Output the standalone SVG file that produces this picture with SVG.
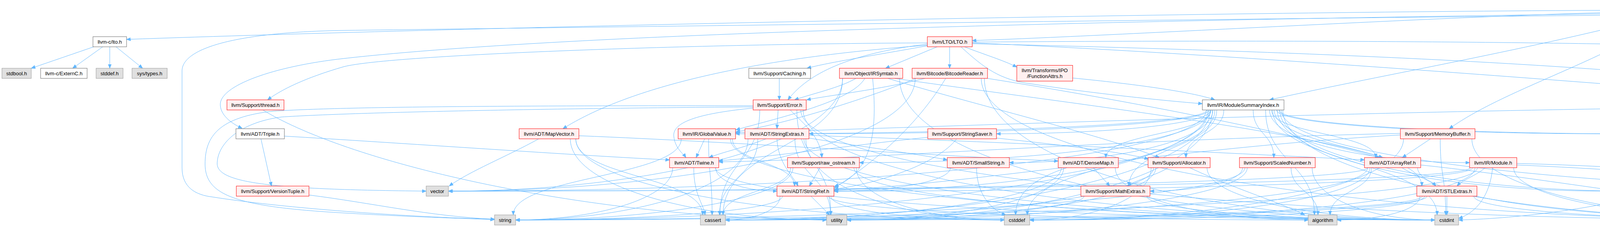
<svg xmlns="http://www.w3.org/2000/svg" width="5255" height="582" viewBox="0 0 5255 582">
<style>
.node rect{stroke-width:1}
.t{fill:#999999;stroke:#666666}
.w{fill:#ffffff;stroke:#666666}
.g{fill:#e0e0e0;stroke:#999999}
.r{fill:#fff0f0;stroke:#ff0000}
text{font-family:"Liberation Sans",Arial,sans-serif;font-size:13px;fill:#000000;text-anchor:middle}
text.l{text-anchor:start}
#edges path{fill:none;stroke:#63b8ff;stroke-width:1;marker-end:url(#arr)}
</style>
<defs>
<marker id="arr" markerUnits="userSpaceOnUse" markerWidth="12" markerHeight="10" refX="10.5" refY="4.5" orient="auto">
<path d="M0.5,0.5 L10.5,4.5 L0.5,8.5 z" fill="#63b8ff" stroke="#63b8ff" stroke-width="1"/>
</marker>
</defs>
<rect x="0" y="0" width="5255" height="582" fill="#ffffff"/>
<g id="edges">
<path d="M4217,26 C3000,30 1200,70 324,101"/>
<path d="M4217,30 C3800,36 2900,90 2489,104"/>
<path d="M4217,34 C3000,50 1500,80 880,150 C700,170 560,220 564,270 C566,300 600,320 620,329"/>
<path d="M4217,38 C3000,50 1500,70 880,78 C620,82 466,120 466,182 L466,430 C466,480 500,500 544,505 C700,530 1000,555 1266,562"/>
<path d="M4225,46 C3900,130 3500,200 3250,256"/>
<path d="M4265,46 C4100,160 3850,230 3710,330"/>
<path d="M4391,33 C4600,50 4850,80 4978,100"/>
<path d="M4391,36 C4700,60 4865,120 4865,200 L4865,477"/>
<path d="M4391,30 C4750,40 4920,110 5017,256"/>
<path d="M4391,27 C4800,30 5150,60 5200,130 C5240,200 5200,270 5170,330"/>
<path d="M240,120 L80,175"/>
<path d="M263,120 L186,175"/>
<path d="M281,120 L281,175"/>
<path d="M297,120 L365,175"/>
<path d="M5029,282 L5046,477"/>
<path d="M728,349 C1000,365 1500,400 1714,410"/>
<path d="M668,356 L695,477"/>
<path d="M791,500 C950,520 1100,555 1266,562"/>
<path d="M673,282 C900,420 1500,560 2116,564"/>
<path d="M3255,282 C3255,343 3522,343 3522,404"/>
<path d="M3100,282 C3100,343 2831,343 2831,404"/>
<path d="M3262,282 C3262,379 3640,379 3640,477"/>
<path d="M3105,282 C3105,363 2845,417 2584,417"/>
<path d="M3095,282 C3095,319 2583,343 2071,343"/>
<path d="M3280,282 C3280,407 4125,490 4971,490"/>
<path d="M3095,282 C3095,407 2615,490 2135,490"/>
<path d="M3276,282 C3276,407 3730,490 4183,490"/>
<path d="M3090,282 C3090,319 2486,343 1883,343"/>
<path d="M3250,282 C3250,363 3506,417 3762,417"/>
<path d="M3133,282 C3133,343 3036,343 3036,404"/>
<path d="M3115,282 C3115,379 2890,379 2890,477"/>
<path d="M3208,282 C3208,343 3261,343 3261,404"/>
<path d="M3100,282 C3100,319 2825,343 2551,343"/>
<path d="M3100,282 C3100,363 2650,417 2200,417"/>
<path d="M3240,282 C3240,416 3365,416 3365,551"/>
<path d="M3270,282 C3270,407 3690,490 4109,490"/>
<path d="M3098,282 C3098,451 2477,564 1857,564"/>
<path d="M3110,282 C3110,416 2630,416 2630,551"/>
<path d="M3258,282 C3258,416 3679,416 3679,551"/>
<path d="M3268,282 C3268,319 3688,343 4108,343"/>
<path d="M3284,282 C3284,451 3921,564 4559,564"/>
<path d="M3274,282 C3274,319 3726,343 4178,343"/>
<path d="M3092,282 C3092,451 2206,564 1320,564"/>
<path d="M3104,282 C3104,451 2636,564 2168,564"/>
<path d="M3088,282 C3088,407 2118,490 1148,490"/>
<path d="M2376,117 C2250,140 2120,160 2066,175"/>
<path d="M2399,120 L2267,175"/>
<path d="M2431,120 L2431,175"/>
<path d="M2469,120 C2520,140 2570,155 2603,172"/>
<path d="M2374,113 C2150,140 2060,200 2017,256"/>
<path d="M2374,110 C1800,112 1000,140 880,171 C780,200 720,230 685,256"/>
<path d="M2374,116 C1900,150 1600,230 1441,330"/>
<path d="M2489,112 C3700,140 4916,200 4916,330 C4916,420 4980,460 5005,477"/>
<path d="M2489,108 C3500,100 4700,110 4900,150 C4980,180 5010,220 5017,256"/>
<path d="M2460,120 C2520,175 2560,205 2640,215 C2800,240 2980,258 3078,266"/>
<path d="M2489,110 C3200,140 4300,230 4700,262"/>
<path d="M2746,200 C2900,215 3050,235 3110,256"/>
<path d="M3662,356 L3590,404"/>
<path d="M3585,346 C3000,380 2500,470 2135,488"/>
<path d="M3585,342 C2800,360 2200,410 1840,415"/>
<path d="M3593,356 C3593,481 3114,564 2636,564"/>
<path d="M3687,356 C3687,453 3701,453 3701,551"/>
<path d="M3768,356 C3768,481 4163,564 4559,564"/>
<path d="M5161,356 C5165,440 5160,490 5100,515 C4950,545 4750,558 4627,562"/>
<path d="M1379,356 C1300,400 1200,440 1150,477"/>
<path d="M1482,348 C1900,365 2400,400 2709,413"/>
<path d="M1474,356 C1474,453 1799,453 1799,551"/>
<path d="M1474,356 C1474,481 2022,564 2571,564"/>
<path d="M1460,356 C1460,481 1795,564 2116,564"/>
<path d="M1995,201 L1995,256"/>
<path d="M2191,201 C2150,225 2080,240 2034,256"/>
<path d="M2214,201 C2180,260 2000,300 1884,333"/>
<path d="M2234,201 C2245,320 2240,440 2136,478"/>
<path d="M2273,201 C2500,270 2800,340 2968,404"/>
<path d="M2290,201 C2700,260 3300,330 3540,404"/>
<path d="M2157,201 C2157,376 1851,376 1851,551"/>
<path d="M2303,201 C2303,419 2988,564 3673,564"/>
<path d="M2157,201 C2157,374 1652,490 1148,490"/>
<path d="M2368,201 C2250,230 2120,245 2065,256"/>
<path d="M2345,201 C2200,260 2000,320 1884,338"/>
<path d="M2421,201 C2330,350 2200,440 2136,482"/>
<path d="M2528,201 C2900,260 3300,340 3530,404"/>
<path d="M2520,201 C2520,419 3096,564 3673,564"/>
<path d="M2512,201 C2512,419 3539,564 4559,564"/>
<path d="M2343,201 C2343,374 1745,490 1148,490"/>
<path d="M1992,282 L1989,330"/>
<path d="M2023,282 C2060,320 2100,350 2104,404"/>
<path d="M1928,277 C1800,290 1720,310 1725,350 C1728,380 1750,395 1756,404"/>
<path d="M1945,282 C1945,416 1843,416 1843,551"/>
<path d="M2056,282 C2056,451 2864,564 3673,564"/>
<path d="M2050,282 C2050,451 3307,564 4559,564"/>
<path d="M1928,271 C1400,271 900,272 700,285 C560,300 525,350 525,420 C525,500 600,530 880,546 C1050,556 1180,560 1266,563"/>
<path d="M2040,282 C2040,416 2127,416 2127,551"/>
<path d="M1928,274 C1400,278 900,288 720,300 C610,315 556,370 556,420 C557,470 700,486 1091,490"/>
<path d="M1804,356 L1782,404"/>
<path d="M1875,356 C1875,416 2034,416 2034,477"/>
<path d="M1814,356 C1814,453 1823,453 1823,551"/>
<path d="M1870,356 C1870,481 2774,564 3673,564"/>
<path d="M1744,356 C1744,453 1314,453 1314,551"/>
<path d="M1961,356 C1900,380 1850,390 1815,404"/>
<path d="M1989,356 C1992,420 2030,450 2043,477"/>
<path d="M2071,354 C2200,375 2350,395 2425,410"/>
<path d="M2071,347 C2600,365 3200,395 3493,410"/>
<path d="M1940,356 C1940,453 1842,453 1842,551"/>
<path d="M2063,356 C2063,481 2317,564 2571,564"/>
<path d="M2058,356 C2058,481 2868,564 3673,564"/>
<path d="M1915,356 C1915,481 1617,564 1320,564"/>
<path d="M2035,356 C2035,453 2126,453 2126,551"/>
<path d="M2449,356 C2400,420 2250,470 2136,485"/>
<path d="M2375,352 C2200,370 1950,405 1840,412"/>
<path d="M2551,354 C2700,370 2880,390 2940,408"/>
<path d="M1832,430 C1832,466 1910,490 1989,490"/>
<path d="M1776,430 C1776,500 1800,520 1805,551"/>
<path d="M1832,430 C1832,510 2752,564 3673,564"/>
<path d="M1722,430 C1722,510 1521,564 1320,564"/>
<path d="M2099,430 L2072,477"/>
<path d="M2024,430 C2024,490 1851,490 1851,551"/>
<path d="M2192,430 C2192,510 2381,564 2571,564"/>
<path d="M2186,430 C2186,510 2932,564 3673,564"/>
<path d="M2030,430 C2030,510 1672,564 1320,564"/>
<path d="M2433,430 C2433,466 2284,490 2135,490"/>
<path d="M2500,430 C2500,500 2540,540 2575,551"/>
<path d="M2076,503 L2124,551"/>
<path d="M1997,503 C1997,540 1927,564 1857,564"/>
<path d="M2003,503 C2003,540 1658,564 1320,564"/>
<path d="M2127,503 C2127,540 2349,564 2571,564"/>
<path d="M2121,503 C2121,540 2738,564 3349,564"/>
<path d="M2799,430 L2841,477"/>
<path d="M2731,430 C2640,460 2600,500 2600,551"/>
<path d="M2855,430 C2855,510 3102,564 3349,564"/>
<path d="M2717,430 C2717,510 2287,564 1857,564"/>
<path d="M2723,430 C2723,510 2442,564 2168,564"/>
<path d="M2990,430 C2960,450 2910,460 2886,477"/>
<path d="M3046,430 C3150,480 3280,520 3340,551"/>
<path d="M2947,430 C2947,510 2791,564 2636,564"/>
<path d="M2953,430 C2953,510 2402,564 1857,564"/>
<path d="M3090,430 C3090,510 3381,564 3673,564"/>
<path d="M2959,430 C2959,510 2557,564 2168,564"/>
<path d="M3181,430 C3181,466 3062,490 2944,490"/>
<path d="M3305,430 C3305,490 3374,490 3374,551"/>
<path d="M3359,430 C3359,510 3516,564 3673,564"/>
<path d="M3187,430 C3187,510 2250,564 1320,564"/>
<path d="M3193,430 C3193,510 2674,564 2168,564"/>
<path d="M2775,503 C2775,540 2316,564 1857,564"/>
<path d="M2936,503 C2936,540 3304,564 3673,564"/>
<path d="M3589,430 C3620,450 3660,460 3676,477"/>
<path d="M3511,430 C3511,490 3405,490 3405,551"/>
<path d="M3637,423 C3800,440 4000,470 4109,485"/>
<path d="M3501,430 C3501,510 2679,564 1857,564"/>
<path d="M3507,430 C3507,510 3068,564 2636,564"/>
<path d="M3629,430 C3629,510 4094,564 4559,564"/>
<path d="M3501,430 C3501,466 2324,490 1148,490"/>
<path d="M3802,430 C3780,450 3745,460 3730,477"/>
<path d="M3821,430 C3815,500 3780,545 3734,560"/>
<path d="M3883,419 C4300,430 4700,470 4971,485"/>
<path d="M3883,423 C4300,440 4600,480 4782,488"/>
<path d="M3875,430 C3875,510 4217,564 4559,564"/>
<path d="M3770,430 C3770,466 2952,490 2135,490"/>
<path d="M3776,430 C3776,510 3203,564 2636,564"/>
<path d="M3782,430 C3782,510 2545,564 1320,564"/>
<path d="M3764,430 C3764,466 2459,490 1148,490"/>
<path d="M3704,503 L3704,551"/>
<path d="M3635,503 C3635,540 3529,564 3423,564"/>
<path d="M3641,503 C3641,540 2746,564 1857,564"/>
<path d="M3647,503 C3647,540 3135,564 2636,564"/>
<path d="M3773,503 C3773,540 4166,564 4559,564"/>
<path d="M3653,503 C3653,540 2901,564 2168,564"/>
<path d="M4190,503 C4100,530 3900,560 3734,564"/>
<path d="M4700,272 C3500,280 2300,330 1883,340"/>
<path d="M4771,282 C4800,380 4840,440 4855,477"/>
<path d="M4827,282 C4950,300 5050,320 5090,330"/>
</g>
<g id="n0" class="node"><rect class="t" x="4217" y="5" width="174" height="41"/><text class="l" x="4227" y="22.5">include/llvm/LTO/legacy</text><text class="l" x="4227" y="37.5">/ThinLTOCodeGenerator.h</text></g>
<g id="n1" class="node"><rect class="w" x="238" y="94" width="86" height="26"/><text x="281" y="111.5">llvm-c/lto.h</text></g>
<g id="n2" class="node"><rect class="g" x="5" y="175" width="75" height="26"/><text x="42.5" y="192.5">stdbool.h</text></g>
<g id="n3" class="node"><rect class="w" x="104" y="175" width="119" height="26"/><text x="163.5" y="192.5">llvm-c/ExternC.h</text></g>
<g id="n4" class="node"><rect class="g" x="246" y="175" width="69" height="26"/><text x="280.5" y="192.5">stddef.h</text></g>
<g id="n5" class="node"><rect class="g" x="338" y="175" width="90" height="26"/><text x="383" y="192.5">sys/types.h</text></g>
<g id="n6" class="node"><rect class="w" x="4955" y="256" width="146" height="26"/><text x="5028" y="273.5">llvm/ADT/StringSet.h</text></g>
<g id="n7" class="node"><rect class="r" x="4971" y="477" width="151" height="26"/><text x="5046.5" y="494.5">llvm/ADT/StringMap.h</text></g>
<g id="n8" class="node"><rect class="w" x="604" y="330" width="124" height="26"/><text x="666" y="347.5">llvm/ADT/Triple.h</text></g>
<g id="n9" class="node"><rect class="r" x="605" y="477" width="186" height="26"/><text x="698" y="494.5">llvm/Support/VersionTuple.h</text></g>
<g id="n10" class="node"><rect class="w" x="3078" y="256" width="209" height="26"/><text x="3182.5" y="273.5">llvm/IR/ModuleSummaryIndex.h</text></g>
<g id="n11" class="node"><rect class="r" x="2374" y="94" width="115" height="26"/><text x="2431.5" y="111.5">llvm/LTO/LTO.h</text></g>
<g id="n12" class="node"><rect class="r" x="4978" y="94" width="192" height="26"/><text x="5074" y="111.5">llvm/Support/CachePruning.h</text></g>
<g id="n13" class="node"><rect class="w" x="4782" y="477" width="165" height="26"/><text x="4864.5" y="494.5">llvm/Support/CodeGen.h</text></g>
<g id="n14" class="node"><rect class="r" x="3585" y="330" width="191" height="26"/><text x="3680.5" y="347.5">llvm/Support/MemoryBuffer.h</text></g>
<g id="n15" class="node"><rect class="r" x="5067" y="330" width="182" height="26"/><text x="5158" y="347.5">llvm/Target/TargetOptions.h</text></g>
<g id="n16" class="node"><rect class="g" x="1266" y="551" width="54" height="26"/><text x="1293" y="568.5">string</text></g>
<g id="n17" class="node"><rect class="r" x="581" y="256" width="146" height="26"/><text x="654" y="273.5">llvm/Support/thread.h</text></g>
<g id="n18" class="node"><rect class="r" x="1329" y="330" width="153" height="26"/><text x="1405.5" y="347.5">llvm/ADT/MapVector.h</text></g>
<g id="n19" class="node"><rect class="g" x="1091" y="477" width="57" height="26"/><text x="1119.5" y="494.5">vector</text></g>
<g id="n20" class="node"><rect class="w" x="1917" y="175" width="158" height="26"/><text x="1996" y="192.5">llvm/Support/Caching.h</text></g>
<g id="n21" class="node"><rect class="r" x="2149" y="175" width="162" height="26"/><text x="2230" y="192.5">llvm/Object/IRSymtab.h</text></g>
<g id="n22" class="node"><rect class="r" x="2335" y="175" width="193" height="26"/><text x="2431.5" y="192.5">llvm/Bitcode/BitcodeReader.h</text></g>
<g id="n23" class="node"><rect class="r" x="2603" y="167.5" width="143" height="40.5"/><text x="2674.5" y="184.5">llvm/Transforms/IPO</text><text x="2674.5" y="199.5">/FunctionAttrs.h</text></g>
<g id="n24" class="node"><rect class="r" x="1928" y="256" width="136" height="26"/><text x="1996" y="273.5">llvm/Support/Error.h</text></g>
<g id="n25" class="node"><rect class="r" x="1736" y="330" width="147" height="26"/><text x="1809.5" y="347.5">llvm/IR/GlobalValue.h</text></g>
<g id="n26" class="node"><rect class="r" x="1907" y="330" width="164" height="26"/><text x="1989" y="347.5">llvm/ADT/StringExtras.h</text></g>
<g id="n27" class="node"><rect class="r" x="2375" y="330" width="176" height="26"/><text x="2463" y="347.5">llvm/Support/StringSaver.h</text></g>
<g id="n28" class="node"><rect class="r" x="1714" y="404" width="126" height="26"/><text x="1777" y="421.5">llvm/ADT/Twine.h</text></g>
<g id="n29" class="node"><rect class="r" x="2016" y="404" width="184" height="26"/><text x="2108" y="421.5">llvm/Support/raw_ostream.h</text></g>
<g id="n30" class="node"><rect class="r" x="2425" y="404" width="159" height="26"/><text x="2504.5" y="421.5">llvm/ADT/SmallString.h</text></g>
<g id="n31" class="node"><rect class="r" x="1989" y="477" width="146" height="26"/><text x="2062" y="494.5">llvm/ADT/StringRef.h</text></g>
<g id="n32" class="node"><rect class="g" x="1793" y="551" width="64" height="26"/><text x="1825" y="568.5">cassert</text></g>
<g id="n33" class="node"><rect class="g" x="2116" y="551" width="52" height="26"/><text x="2142" y="568.5">utility</text></g>
<g id="n34" class="node"><rect class="g" x="2571" y="551" width="65" height="26"/><text x="2603.5" y="568.5">cstddef</text></g>
<g id="n35" class="node"><rect class="r" x="2709" y="404" width="154" height="26"/><text x="2786" y="421.5">llvm/ADT/DenseMap.h</text></g>
<g id="n36" class="node"><rect class="r" x="2939" y="404" width="159" height="26"/><text x="3018.5" y="421.5">llvm/Support/Allocator.h</text></g>
<g id="n37" class="node"><rect class="r" x="3173" y="404" width="194" height="26"/><text x="3270" y="421.5">llvm/Support/ScaledNumber.h</text></g>
<g id="n38" class="node"><rect class="r" x="2767" y="477" width="177" height="26"/><text x="2855.5" y="494.5">llvm/Support/MathExtras.h</text></g>
<g id="n39" class="node"><rect class="g" x="3349" y="551" width="74" height="26"/><text x="3386" y="568.5">algorithm</text></g>
<g id="n40" class="node"><rect class="r" x="3493" y="404" width="144" height="26"/><text x="3565" y="421.5">llvm/ADT/ArrayRef.h</text></g>
<g id="n41" class="node"><rect class="r" x="3762" y="404" width="121" height="26"/><text x="3822.5" y="421.5">llvm/IR/Module.h</text></g>
<g id="n42" class="node"><rect class="r" x="3627" y="477" width="154" height="26"/><text x="3704" y="494.5">llvm/ADT/STLExtras.h</text></g>
<g id="n43" class="node"><rect class="g" x="4108" y="330" width="47" height="26"/><text x="4131.5" y="347.5">map</text></g>
<g id="n44" class="node"><rect class="g" x="4178" y="330" width="40" height="26"/><text x="4198" y="347.5">set</text></g>
<g id="n45" class="node"><rect class="g" x="4109" y="477" width="51" height="26"/><text x="4134.5" y="494.5">array</text></g>
<g id="n46" class="node"><rect class="r" x="4183" y="477" width="170" height="26"/><text x="4268" y="494.5">llvm/IR/ConstantRange.h</text></g>
<g id="n47" class="node"><rect class="g" x="3673" y="551" width="61" height="26"/><text x="3703.5" y="568.5">cstdint</text></g>
<g id="n48" class="node"><rect class="r" x="4700" y="256" width="127" height="26"/><text x="4763.5" y="273.5">llvm/LTO/Config.h</text></g>
<g id="n49" class="node"><rect class="g" x="4559" y="551" width="68" height="26"/><text x="4593" y="568.5">memory</text></g>
</svg>
